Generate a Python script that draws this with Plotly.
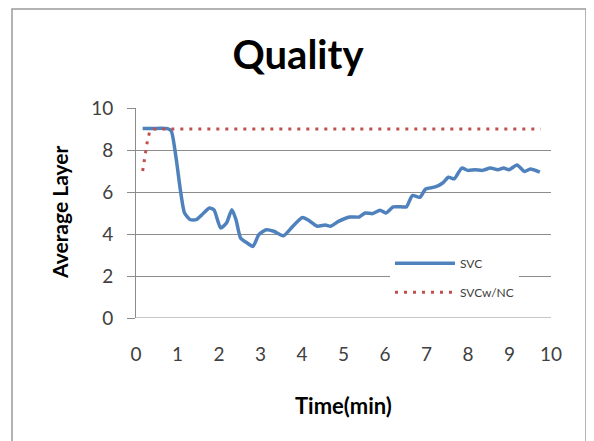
import plotly.graph_objects as go

svc_t = [0.16, 0.4, 0.6, 0.76, 0.85, 0.96, 1.08, 1.17, 1.31, 1.45, 1.58, 1.77, 1.88, 2.04, 2.18, 2.31,
         2.41, 2.52, 2.68, 2.82, 2.96, 3.14, 3.32, 3.55, 3.78, 4.01, 4.14, 4.37, 4.56, 4.69, 4.88,
         5.15, 5.38, 5.52, 5.7, 5.88, 6.02, 6.2, 6.43, 6.52, 6.66, 6.84, 6.98, 7.21, 7.39, 7.53,
         7.67, 7.85, 7.99, 8.17, 8.35, 8.54, 8.72, 8.86, 8.99, 9.18, 9.36, 9.5, 9.73]
svc_v = [9.02, 9.02, 9.04, 9.02, 8.9, 7.7, 5.95, 5.0, 4.68, 4.68, 4.9, 5.24, 5.15, 4.29, 4.52, 5.16,
         4.68, 3.81, 3.57, 3.41, 3.97, 4.2, 4.13, 3.92, 4.37, 4.79, 4.68, 4.37, 4.43, 4.37, 4.6,
         4.81, 4.81, 5.0, 4.97, 5.13, 5.0, 5.29, 5.29, 5.3, 5.83, 5.75, 6.14, 6.24, 6.43, 6.7,
         6.63, 7.14, 7.03, 7.06, 7.03, 7.14, 7.06, 7.14, 7.06, 7.29, 6.98, 7.1, 6.95]

nc_t = [0.16, 0.22, 0.28, 0.34, 0.45, 1.0, 2.0, 3.0, 4.0, 5.0, 6.0, 7.0, 8.0, 9.0, 9.75]
nc_v = [7.0, 7.8, 8.5, 8.95, 9.0, 9.0, 9.0, 9.0, 9.0, 9.0, 9.0, 9.0, 9.0, 9.0, 9.0]

x_ticks = [0, 1, 2, 3, 4, 5, 6, 7, 8, 9, 10]
y_ticks = [0, 2, 4, 6, 8, 10]

fig = go.Figure()
fig.add_trace(go.Scatter(x=svc_t, y=svc_v, mode="lines", name="SVC", legendgroup="a",
                         line=dict(color="#4F81BD", width=3.5, shape="spline", smoothing=0.6)))
fig.add_trace(go.Scatter(x=nc_t, y=nc_v, mode="lines", name="SVCw/NC", legendgroup="b",
                         line=dict(color="#C0504D", width=3, dash="3px,6px")))

font_family = "Lato, 'Open Sans', sans-serif"
grey = "#8C8C8C"
# page body has an 8px margin, so the figure is drawn 8px in from the top-left corner
W, H = 586, 433
fig.update_layout(
    width=W, height=H,
    margin=dict(l=128, r=43, t=100, b=123),
    paper_bgcolor="white", plot_bgcolor="white",
    font=dict(family=font_family, color="#404040"),
    title=dict(text="<b>Quality</b>", x=(298 - 8) / W, xanchor="center", y=1 - 47 / H, yanchor="middle",
               font=dict(size=40, color="black", family=font_family)),
    showlegend=True,
    legend=dict(x=0.612, y=0.33, xanchor="left", yanchor="top", bgcolor="white",
                font=dict(size=12, color="#404040"), tracegroupgap=10,
                itemwidth=60),
    xaxis=dict(range=[0, 10], tickvals=x_ticks, showgrid=False, zeroline=False, automargin=False,
               showline=False, ticks="", ticklabelstandoff=23,
               tickfont=dict(size=19, color="#404040")),
    yaxis=dict(range=[0, 10], tickvals=y_ticks, showgrid=True, gridcolor=grey, gridwidth=1,
               zeroline=False, showline=True, linecolor=grey, linewidth=1, automargin=False,
               ticks="outside", ticklen=8, tickcolor=grey, ticklabelstandoff=10,
               tickfont=dict(size=19, color="#404040")),
)
fig.add_annotation(text="<b>Time(min)</b>", xref="paper", yref="paper",
                   x=(343 - 136) / 415, y=(318 - 405) / 210, showarrow=False,
                   xanchor="center", yanchor="middle", font=dict(size=22, color="black"))
fig.add_annotation(text="<b>Average Layer</b>", xref="paper", yref="paper",
                   x=(59 - 136) / 415, y=(318 - 213) / 210, showarrow=False, textangle=-90,
                   xanchor="center", yanchor="middle", font=dict(size=21, color="black"))
# x-axis baseline (the 0 gridline)
fig.add_shape(type="line", xref="x", yref="y", x0=-0.2, x1=10, y0=0, y1=0,
              line=dict(color=grey, width=1))
# outer chart frame
fig.add_shape(type="rect", xref="paper", yref="paper", x0=(12 - 136) / 415, x1=(586 - 136) / 415,
              y0=(318 - 450) / 210, y1=(318 - 9) / 210,
              line=dict(color="#9A9A9A", width=1.5), layer="below")

fig.write_html("out.html")
